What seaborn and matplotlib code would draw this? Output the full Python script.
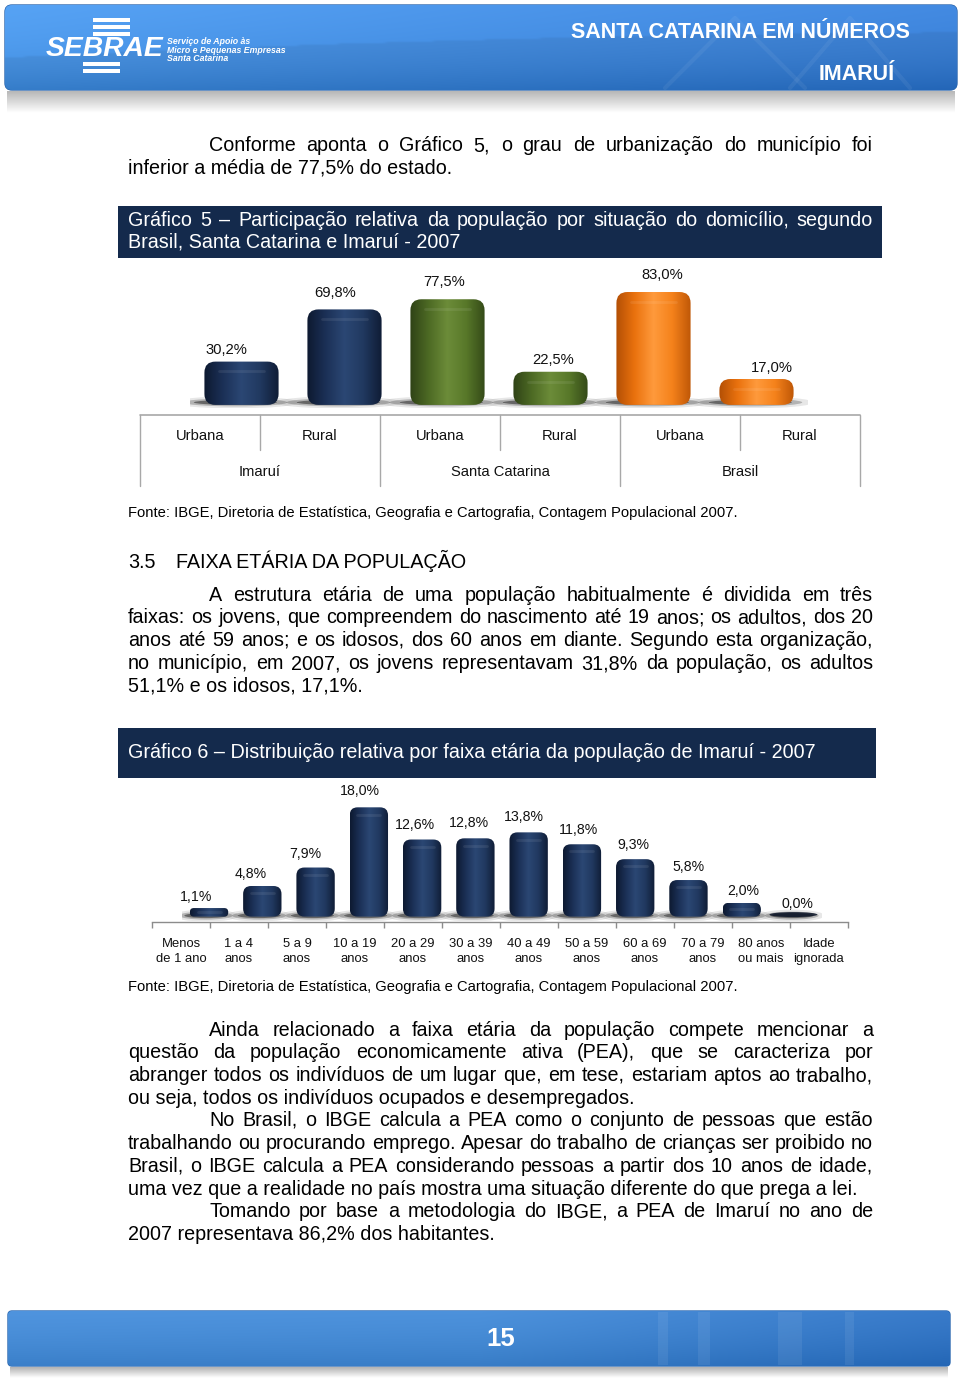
import numpy as np
import pandas as pd
import matplotlib
matplotlib.use("Agg")
import matplotlib.pyplot as plt
import seaborn as sns
from matplotlib.patches import FancyBboxPatch, Ellipse, Rectangle
from matplotlib.colors import LinearSegmentedColormap
from matplotlib.figure import Figure
from matplotlib.backends.backend_agg import FigureCanvasAgg

# ---------------- data ----------------
grupos = ["Imaruí", "Imaruí", "Santa Catarina", "Santa Catarina", "Brasil", "Brasil"]
situacao = ["Urbana", "Rural", "Urbana", "Rural", "Urbana", "Rural"]
valores1 = [30.2, 69.8, 77.5, 22.5, 83.0, 17.0]
grupos_unicos = ["Imaruí", "Santa Catarina", "Brasil"]

faixas = ["Menos\nde 1 ano", "1 a 4\nanos", "5 a 9\nanos", "10 a 19\nanos",
          "20 a 29\nanos", "30 a 39\nanos", "40 a 49\nanos", "50 a 59\nanos",
          "60 a 69\nanos", "70 a 79\nanos", "80 anos\nou mais", "Idade\nignorada"]
valores2 = [1.1, 4.8, 7.9, 18.0, 12.6, 12.8, 13.8, 11.8, 9.3, 5.8, 2.0, 0.0]

titulo1 = ["Gráfico 5 – Participação relativa da população por situação do domicílio, segundo",
           "Brasil, Santa Catarina e Imaruí - 2007"]
titulo2 = "Gráfico 6 – Distribuição relativa por faixa etária da população de Imaruí - 2007"
fonte = "Fonte: IBGE, Diretoria de Estatística, Geografia e Cartografia, Contagem Populacional 2007."

par1 = ["Conforme aponta o Gráfico 5, o grau de urbanização do município foi",
        "inferior a média de 77,5% do estado."]
par2 = ["A estrutura etária de uma população habitualmente é dividida em três",
        "faixas: os jovens, que compreendem do nascimento até 19 anos; os adultos, dos 20",
        "anos até 59 anos; e os idosos, dos 60 anos em diante. Segundo esta organização,",
        "no município, em 2007, os jovens representavam 31,8% da população, os adultos",
        "51,1% e os idosos, 17,1%."]
par3 = ["Ainda relacionado a faixa etária da população compete mencionar a",
        "questão da população economicamente ativa (PEA), que se caracteriza por",
        "abranger todos os indivíduos de um lugar que, em tese, estariam aptos ao trabalho,",
        "ou seja, todos os indivíduos ocupados e desempregados."]
par4 = ["No Brasil, o IBGE calcula a PEA como o conjunto de pessoas que estão",
        "trabalhando ou procurando emprego. Apesar do trabalho de crianças ser proibido no",
        "Brasil, o IBGE calcula a PEA considerando pessoas a partir dos 10 anos de idade,",
        "uma vez que a realidade no país mostra uma situação diferente do que prega a lei."]
par5 = ["Tomando por base a metodologia do IBGE, a PEA de Imaruí no ano de",
        "2007 representava 86,2% dos habitantes."]

# ---------------- setup ----------------
sns.set_theme(style="white")
plt.rcParams["font.family"] = ["Liberation Sans", "DejaVu Sans"]

W, H = 960, 1378
fig = plt.figure(figsize=(9.6, 13.78), dpi=100)
fig.patch.set_facecolor("white")


def rect(x0, y0, x1, y1):
    return [x0 / W, 1 - y1 / H, (x1 - x0) / W, (y1 - y0) / H]


pax = fig.add_axes([0, 0, 1, 1])
pax.set_xlim(0, W)
pax.set_ylim(H, 0)
pax.axis("off")
renderer = fig.canvas.get_renderer()

BODY = 14.2


def measure(s, size=BODY):
    t = pax.text(0, 0, s, fontsize=size)
    w = t.get_window_extent(renderer=renderer).width
    t.remove()
    return w


# scratch canvas used to find the raster rounding offset of a single word, so that
# separately drawn words of a justified line land on one common baseline
_sfig = Figure(figsize=(9.6, 1.2), dpi=100)
_scan = FigureCanvasAgg(_sfig)
_sfig.patch.set_facecolor("white")
_sax = _sfig.add_axes([0, 0, 1, 1])
_sax.set_xlim(0, 960)
_sax.set_ylim(120, 0)
_sax.axis("off")
_cache = {}
GUARD = " ÁÇçj|"


def raster_shift(word, size):
    key = (word, size)
    if key in _cache:
        return _cache[key]
    for t in list(_sax.texts):
        t.remove()
    _sax.text(10, 40, word, fontsize=size, va="baseline", color="black")
    _sax.text(10, 100, word + GUARD, fontsize=size, va="baseline", color="black")
    _scan.draw()
    ink = 255.0 - np.asarray(_scan.buffer_rgba())[:, :, 0].astype(float)
    c1 = int(10 + measure(word, size)) + 1
    A = ink[0:60, 5:c1].sum(axis=1)
    B = ink[60:120, 5:c1].sum(axis=1)
    best, bs = None, 0
    for s in range(-3, 4):
        err = np.abs(A - np.roll(B, -s)).sum()
        if best is None or err < best - 1e-6:
            best, bs = err, s
    _cache[key] = bs
    return bs


def ptext(x, y, s, size=BODY, shift=0, **kw):
    # y = visual centre of the line; baseline snapped to a whole pixel
    y0 = round(y + 0.258 * size * 100 / 72)
    return pax.text(x, y0 + shift, s, fontsize=size, va="baseline", **kw)


def justified(line, x0, x1, y, size=BODY, **kw):
    words = line.split()
    ws = [measure(w, size) for w in words]
    gap = (x1 - x0 - sum(ws)) / (len(words) - 1)
    x = x0
    for w, wd in zip(words, ws):
        ptext(x, y, w, size, shift=raster_shift(w, size), ha="left", **kw)
        x += wd + gap


def paragraph(lines, y0, lh=22.75, indent=209, left=128, right=873):
    for k, ln in enumerate(lines):
        x0 = indent if k == 0 else left
        y = y0 + k * lh
        if k == len(lines) - 1:
            ptext(x0, y, ln, ha="left", color="black")
        else:
            justified(ln, x0, right, y, color="black")


def grad_image(ax, x0, x1, y0, y1, arr, clip=None, z=1):
    im = ax.imshow(arr, extent=[x0, x1, y1, y0], aspect="auto", origin="upper",
                   zorder=z, interpolation="bicubic")
    if clip is not None:
        im.set_clip_path(clip)
    return im


# ---------------- header ----------------
hx0, hy0, hx1, hy1 = 5, 5, 957, 90
hdr = FancyBboxPatch((hx0, hy0), hx1 - hx0, hy1 - hy0,
                     boxstyle="round,pad=0,rounding_size=7",
                     fc="#3d7fcb", ec="#2c66ad", lw=1.0, zorder=1)
pax.add_patch(hdr)
nx, ny = 240, 60
xx = np.linspace(0, 1, nx)[None, :, None]
yy = np.linspace(0, 1, ny)[:, None, None]
cL = np.array([0.27, 0.55, 0.85])
cR = np.array([0.20, 0.46, 0.78])
img = cL * (1 - xx) + cR * xx
swoosh = (yy < 0.62 - 0.55 * xx + 0.25 * xx ** 2).astype(float)
img = img * (1 + 0.07 * swoosh) + 0.05 * (1 - yy) - 0.06 * yy ** 3
img = np.clip(img, 0, 1)
grad_image(pax, hx0, hx1, hy0, hy1, img, clip=hdr, z=1.5)
for (tx, tw) in [(735, 70), (850, 60)]:
    pax.plot([tx - tw, tx, tx + tw], [88, 18, 88], color="white", alpha=0.06, lw=3, zorder=2)
refl = np.linspace(0.72, 1.0, 30)[:, None, None] * np.ones((1, 10, 3))
grad_image(pax, 7, 955, 91, 113, refl, z=1)

# SEBRAE logo
for yb in [20, 27, 34]:
    pax.add_patch(Rectangle((93, yb - 2), 37, 4, fc="white", ec="none", zorder=3))
for yb in [64, 71]:
    pax.add_patch(Rectangle((83, yb - 2), 37, 4, fc="white", ec="none", zorder=3))
pax.text(46, 49, "SEBRAE", fontsize=20.3, fontweight="bold", fontstyle="italic",
         color="white", ha="left", va="center", zorder=4)
for k, s in enumerate(["Serviço de Apoio às", "Micro e Pequenas Empresas", "Santa Catarina"]):
    pax.text(167, 42 + 8.3 * k, s, fontsize=6.3, fontweight="bold", fontstyle="italic",
             color="white", ha="left", va="center", zorder=4)
pax.text(740, 32, "SANTA CATARINA EM NÚMEROS", fontsize=15.5, fontweight="bold",
         color="white", ha="center", va="center", zorder=4)
pax.text(857, 75, "IMARUÍ", fontsize=15.5, fontweight="bold",
         color="white", ha="center", va="center", zorder=4)

# ---------------- paragraph 1 ----------------
paragraph(par1, 146)

# ---------------- title box 1 ----------------
NAVY = "#142a4c"
pax.add_patch(Rectangle((118, 206), 764, 52, fc=NAVY, ec="none", zorder=1))
justified(titulo1[0], 128, 873, 221, color="white", zorder=3)
ptext(128, 243, titulo1[1], color="white", ha="left", zorder=3)

# ---------------- cylinder helper ----------------
grad = np.linspace(0, 1, 256).reshape(1, -1)


def make_cmap(cols):
    return LinearSegmentedColormap.from_list("c", cols)


cm_navy = make_cmap(["#0d1930", "#1b3056", "#2b4774", "#213960", "#0f1c35"])
cm_green = make_cmap(["#2f4216", "#4d6a24", "#6c8c39", "#587829", "#344a18"])
cm_orange = make_cmap(["#b24f05", "#ea720e", "#ff9a3c", "#f5821b", "#bf5707"])


def draw_cylinders(ax, cmaps, px_x, px_y, ext_px, r_px):
    asp = px_x / px_y
    for p in list(ax.patches):
        x, w, h = p.get_x(), p.get_width(), p.get_height()
        i = int(round(x + w / 2))
        p.set_visible(False)
        cx = x + w / 2
        for sw, sh, a in [(1.7, 12, 0.10), (1.4, 8, 0.25), (1.12, 5, 0.5)]:
            ax.add_patch(Ellipse((cx - 0.06, -1.0 / px_y), w * sw, sh / px_y,
                                 fc="#1a1a1a", ec="none", alpha=a, zorder=2))
        if h <= 0:
            # a zero-height cylinder shows only as a dark flat disc
            ax.add_patch(Ellipse((cx - 0.03, 0), w * 1.25, 5 / px_y,
                                 fc="#0a1326", ec="none", alpha=0.85, zorder=3))
            continue
        ext = ext_px / px_y
        tot_px = (h + ext) * px_y
        rp = min(r_px, tot_px / 2 - 0.3, w * px_x / 2)
        r = rp / px_x
        fb = FancyBboxPatch((x, -ext), w, h + ext,
                            boxstyle=f"round,pad=0,rounding_size={r}",
                            mutation_aspect=asp, fc="none", ec="none")
        ax.add_patch(fb)
        im = ax.imshow(grad, extent=[x, x + w, -ext, h], cmap=cmaps[i], aspect="auto",
                       origin="lower", zorder=3, interpolation="bicubic")
        im.set_clip_path(fb)
        ax.plot([x + w * 0.2, x + w * 0.8], [h - rp / px_y * 0.9] * 2, color="white",
                alpha=0.08, lw=2, zorder=4, solid_capstyle="round")


def fmt(v):
    return f"{v:.1f}%".replace(".", ",")


# ---------------- chart 1 ----------------
PX1_X, PX1_Y = 103.0, 1.318
base1 = 401.4
ax1 = fig.add_axes(rect(190, base1 - 100 * PX1_Y, 190 + 6 * PX1_X, base1 + 5 * PX1_Y))
df1 = pd.DataFrame({"cat": [f"{g} {s}" for g, s in zip(grupos, situacao)],
                    "valor": valores1, "grupo": grupos})
pal1 = {"Imaruí": "#1b3056", "Santa Catarina": "#4d6a24", "Brasil": "#ea720e"}
sns.barplot(data=df1, x="cat", y="valor", hue="grupo", palette=pal1, dodge=False,
            width=0.72, errorbar=None, legend=False, ax=ax1)
cmaps1 = [{"Imaruí": cm_navy, "Santa Catarina": cm_green, "Brasil": cm_orange}[g] for g in grupos]
draw_cylinders(ax1, cmaps1, PX1_X, PX1_Y, ext_px=3.5, r_px=11)
for i, v in enumerate(valores1):
    ax1.annotate(fmt(v), xy=(i + 0.058 * (i - 2.5), v * 1.076), xytext=(0, 9 * 0.72),
                 textcoords="offset points", ha="center", va="center",
                 fontsize=10.6, color="#111111", annotation_clip=False)
ax1.set_xlim(-0.5, 5.5)
ax1.set_ylim(-5, 100)
ax1.axis("off")
ax1.patch.set_alpha(0)

# category table of chart 1
tax = fig.add_axes(rect(140, 414, 860, 486))
tax.set_xlim(0, 6)
tax.set_ylim(486, 414)
tax.axis("off")
tax.patch.set_alpha(0)
LG = "#a8a8a8"
tax.plot([0, 6], [414.5, 414.5], color=LG, lw=1.2, clip_on=False)
for k in range(4):
    tax.plot([2 * k, 2 * k], [414.5, 486], color=LG, lw=1.0, clip_on=False)
for k in range(3):
    tax.plot([2 * k + 1, 2 * k + 1], [414.5, 450], color=LG, lw=1.0, clip_on=False)
for i, s in enumerate(situacao):
    tax.text(i + 0.5, 436.5, s, ha="center", va="center", fontsize=10.6, color="#111111")
for k, g in enumerate(grupos_unicos):
    tax.text(2 * k + 1, 472.5, g, ha="center", va="center", fontsize=10.6, color="#111111")

ptext(128, 513, fonte, size=10.6, color="black", ha="left")

# ---------------- section heading + paragraph 2 ----------------
ptext(128, 563, "3.5", color="black", ha="left")
ptext(176, 563, "FAIXA ETÁRIA DA POPULAÇÃO", color="black", ha="left")
paragraph(par2, 595.5)

# ---------------- title box 2 ----------------
pax.add_patch(Rectangle((118, 728), 758, 50, fc=NAVY, ec="none", zorder=1))
ptext(128, 752.5, titulo2, color="white", ha="left", zorder=3)

# ---------------- chart 2 ----------------
PX2_X, PX2_Y = 53.27, 5.96
base2 = 914.6
x2l = 182.4
ax2 = fig.add_axes(rect(x2l, base2 - 20 * PX2_Y, x2l + 12 * PX2_X, base2 + 1 * PX2_Y))
df2 = pd.DataFrame({"faixa": faixas, "valor": valores2})
sns.barplot(data=df2, x="faixa", y="valor", color="#1b3056", width=0.72,
            errorbar=None, ax=ax2)
draw_cylinders(ax2, [cm_navy] * len(valores2), PX2_X, PX2_Y, ext_px=2.0, r_px=8)
for i, v in enumerate(valores2):
    ax2.annotate(fmt(v), xy=(i - 0.1 + 0.027 * (i - 5.5), v * 1.05), xytext=(0, 11 * 0.72),
                 textcoords="offset points", ha="center", va="center",
                 fontsize=10.2, color="#111111", annotation_clip=False)
ax2.set_xlim(-0.5, 11.5)
ax2.set_ylim(-1, 20)
ax2.axis("off")
ax2.patch.set_alpha(0)

cax = fig.add_axes(rect(152, 905, 848, 921.5))
cax.set_xlim(0, 12)
cax.patch.set_alpha(0)
for sp in ["top", "left", "right"]:
    cax.spines[sp].set_visible(False)
cax.spines["bottom"].set_color("#8c8c8c")
cax.spines["bottom"].set_linewidth(1.0)
cax.set_yticks([])
cax.set_xticks(np.arange(13), minor=True)
cax.set_xticks(np.arange(12) + 0.5)
cax.set_xticklabels(faixas, fontsize=9.4, color="#111111", linespacing=1.32)
cax.tick_params(axis="x", which="major", length=0, pad=12)
cax.tick_params(axis="x", which="minor", length=4, width=1, color="#8c8c8c",
                direction="out", bottom=True)

ptext(128, 987.5, fonte, size=10.6, color="black", ha="left")

# ---------------- paragraphs 3-5 ----------------
paragraph(par3, 1030.5)
paragraph(par4, 1121.2)
paragraph(par5, 1212)

# ---------------- footer ----------------
fx0, fy0, fx1, fy1 = 8, 1311, 950, 1366
ftr = FancyBboxPatch((fx0, fy0), fx1 - fx0, fy1 - fy0,
                     boxstyle="round,pad=0,rounding_size=4",
                     fc="#3a80cb", ec="#2d69b0", lw=1.0, zorder=1)
pax.add_patch(ftr)
xx = np.linspace(0, 1, nx)[None, :, None]
yy = np.linspace(0, 1, 40)[:, None, None]
fL = np.array([0.27, 0.54, 0.83])
fM = np.array([0.26, 0.53, 0.82])
fR = np.array([0.18, 0.44, 0.75])
fimg = np.where(xx < 0.5, fL * (1 - 2 * xx) + fM * 2 * xx, fM * (2 - 2 * xx) + fR * (2 * xx - 1))
fimg = np.clip(fimg + 0.04 * (1 - yy) - 0.04 * yy ** 2, 0, 1)
grad_image(pax, fx0, fx1, fy0, fy1, fimg, clip=ftr, z=1.5)
for sx, sw in [(658, 10), (698, 12), (778, 24), (845, 9)]:
    pax.add_patch(Rectangle((sx, fy0 + 1), sw, fy1 - fy0 - 2, fc="white", ec="none",
                            alpha=0.07, zorder=2))
fref = np.linspace(0.70, 1.0, 20)[:, None, None] * np.ones((1, 10, 3))
grad_image(pax, 10, 948, 1367, 1378, fref, z=1)
pax.text(501, 1338.5, "15", fontsize=18.5, fontweight="bold", color="white",
         ha="center", va="center", zorder=4)

pax.set_xlim(0, W)
pax.set_ylim(H, 0)

fig.savefig("out.png", dpi=100, facecolor="white")
